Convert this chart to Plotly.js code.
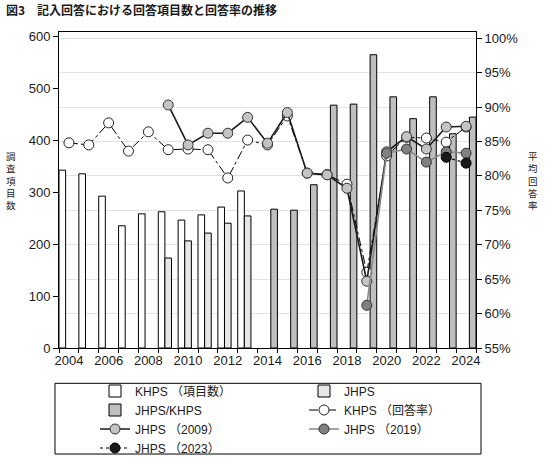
<!DOCTYPE html>
<html>
<head>
<meta charset="utf-8">
<script src="https://cdn.plot.ly/plotly-3.0.1.min.js"></script>
<style>html,body{margin:0;padding:0;background:#fff;}#chart{width:546px;height:459px;}</style>
</head>
<body>
<div id="chart"></div>
<script>
// ---- data ----
const years = [2004,2005,2006,2007,2008,2009,2010,2011,2012,2013,2014,2015,2016,2017,2018,2019,2020,2021,2022,2023,2024];
const khpsYears = [2004,2005,2006,2007,2008,2009,2010,2011,2012,2013];
const khpsItems = [342,335,292,235,258,262,246,256,271,302];
const jhpsYears = [2009,2010,2011,2012,2013];
const jhpsItems = [173,206,221,240,254];
const jointYears = [2014,2015,2016,2017,2018,2019,2020,2021,2022,2023,2024];
const jointItems = [267,265,314,467,469,564,483,441,483,412,444];

const khpsRate = [84.8,84.5,87.7,83.6,86.4,83.8,83.9,83.8,79.7,85.2,84.5,88.7,80.4,80.2,78.8,66.0,82.9,85.6,85.5,84.9,87.1];
const jhps2009Years = [2009,2010,2011,2012,2013,2014,2015,2016,2017,2018,2019,2020,2021,2022,2023,2024];
const jhps2009Rate = [90.3,84.5,86.2,86.2,88.5,84.75,89.2,80.4,80.15,78.2,64.7,83.5,85.7,83.9,87.1,87.2];
const jhps2019Years = [2019,2020,2021,2022,2023,2024];
const jhps2019Rate = [61.2,83.3,83.9,82.0,83.5,83.3];
const jhps2023Years = [2023,2024];
const jhps2023Rate = [82.7,81.85];

const xTickVals = [2004,2006,2008,2010,2012,2014,2016,2018,2020,2022,2024];
const leftTicks = [0,100,200,300,400,500,600];
const rightTicks = [55,60,65,70,75,80,85,90,95,100];

const names = ['KHPS （項目数）','JHPS','JHPS/KHPS','KHPS （回答率）','JHPS （2009）','JHPS （2019）','JHPS （2023）'];

const FONT = 'Liberation Sans, Arial, Noto Sans CJK JP, sans-serif';
const barLine = {color:'#000', width:1};

const traces = [
  {type:'bar', name:names[0], x:khpsYears, y:khpsItems, marker:{color:'#ffffff', line:barLine}, yaxis:'y', offsetgroup:'a'},
  {type:'bar', name:names[1], x:jhpsYears, y:jhpsItems, marker:{color:'#e6e6e6', line:barLine}, yaxis:'y', offsetgroup:'b'},
  {type:'bar', name:names[2], x:jointYears, y:jointItems, marker:{color:'#bfbfbf', line:barLine}, yaxis:'y', offsetgroup:'c'},
  {type:'scatter', mode:'lines+markers', name:names[3], x:years, y:khpsRate, yaxis:'y2',
   line:{color:'#000', width:1, dash:'dashdot'}, marker:{size:10, color:'#ffffff', line:{color:'#222', width:1}}},
  {type:'scatter', mode:'lines+markers', name:names[4], x:jhps2009Years, y:jhps2009Rate, yaxis:'y2',
   line:{color:'#1a1a1a', width:1.6}, marker:{size:10, color:'#c4c4c4', line:{color:'#333', width:1}}},
  {type:'scatter', mode:'lines+markers', name:names[5], x:jhps2019Years, y:jhps2019Rate, yaxis:'y2',
   line:{color:'#888888', width:1.6}, marker:{size:10, color:'#808080', line:{color:'#333', width:1}}},
  {type:'scatter', mode:'lines+markers', name:names[6], x:jhps2023Years, y:jhps2023Rate, yaxis:'y2',
   line:{color:'#000', width:1.2, dash:'dot'}, marker:{size:10, color:'#1a1a1a', line:{color:'#000', width:1}}}
];

const layout = {
  width:546, height:459,
  margin:{l:59, r:70, t:32, b:111, pad:0, autoexpand:false},
  paper_bgcolor:'#fff', plot_bgcolor:'#fff',
  font:{family:FONT, size:13, color:'#1a1a1a'},
  title:{text:'<b>図3　記入回答における回答項目数と回答率の推移</b>', x:6/546, xref:'container', xanchor:'left',
         y:1-11/459, yref:'container', yanchor:'middle', font:{family:'Noto Sans CJK JP, sans-serif', size:12, color:'#1a1a1a'}},
  barmode:'group', bargap:0, bargroupgap:0,
  showlegend:true,
  xaxis:{type:'linear', range:[2003.5,2024.5], tickmode:'array', tickvals:xTickVals, ticktext:xTickVals.map(String),
         ticks:'', showgrid:false, zeroline:false, showline:true, linecolor:'#000', linewidth:1, mirror:true,
         minor:{tick0:2003.5, dtick:1, ticks:'outside', ticklen:4, tickcolor:'#000', tickwidth:1, showgrid:false},
         tickfont:{size:13}},
  yaxis:{range:[0,607.7], tickmode:'array', tickvals:leftTicks, ticks:'outside', ticklen:5, tickcolor:'#000',
         showgrid:false, zeroline:false, showline:true, linecolor:'#000', linewidth:1, tickfont:{size:13}},
  yaxis2:{overlaying:'y', side:'right', range:[55,100.9], tickmode:'array', tickvals:rightTicks,
          ticktext:rightTicks.map(v=>v+'%'), ticks:'outside', ticklen:5, tickcolor:'#000',
          showgrid:true, gridcolor:'#e2e2e2', gridwidth:1, zeroline:false, showline:true, linecolor:'#000', linewidth:1,
          tickfont:{size:13}},
  legend:{orientation:'h', xref:'container', yref:'container', x:95/546, y:1-376.5/459, xanchor:'left', yanchor:'top',
          entrywidth:164, entrywidthmode:'pixels',
          traceorder:'normal', borderwidth:0, bgcolor:'rgba(0,0,0,0)', font:{family:FONT, size:12, color:'#1a1a1a'}},
  shapes:[{type:'rect', xref:'paper', yref:'paper', x0:-0.0096, x1:1.012, y0:-0.1117, y1:-0.3355,
           line:{color:'#000', width:1}, fillcolor:'rgba(0,0,0,0)'}],
  annotations:[
    {text:'調<br>査<br>項<br>目<br>数', xref:'paper', yref:'paper', x:-0.115, y:0.53, showarrow:false,
     xanchor:'center', yanchor:'middle', font:{family:'Noto Sans CJK JP, sans-serif', size:9.5, color:'#1a1a1a'}},
    {text:'平<br>均<br>回<br>答<br>率', xref:'paper', yref:'paper', x:1.137, y:0.53, showarrow:false,
     xanchor:'center', yanchor:'middle', font:{family:'Noto Sans CJK JP, sans-serif', size:9.5, color:'#1a1a1a'}}
  ]
};

Plotly.newPlot('chart', traces, layout, {staticPlot:true, displayModeBar:false});
</script>
</body>
</html>
